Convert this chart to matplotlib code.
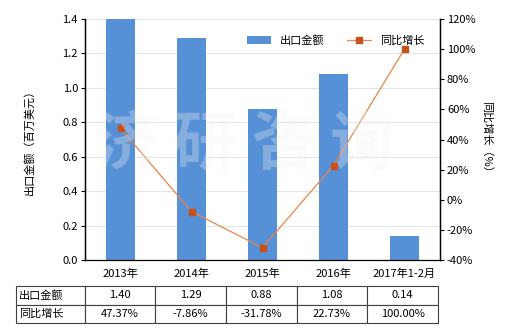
import numpy as np
import matplotlib.pyplot as plt

plt.rcParams['font.family'] = ['Noto Sans CJK SC', 'DejaVu Sans']
plt.rcParams['font.size'] = 8

categories = ['2013年', '2014年', '2015年', '2016年', '2017年1-2月']
export_value = [1.40, 1.29, 0.88, 1.08, 0.14]
growth = [47.37, -7.86, -31.78, 22.73, 100.00]
value_labels = ['1.40', '1.29', '0.88', '1.08', '0.14']
growth_labels = ['47.37%', '-7.86%', '-31.78%', '22.73%', '100.00%']

W, H = 520, 330
fig = plt.figure(figsize=(W / 100, H / 100), dpi=100)
# plot area in pixels: left 85, right 440, top 19, bottom 260
ax = fig.add_axes([85 / W, 1 - 260 / H, (440 - 85) / W, (260 - 19) / H])
ax2 = ax.twinx()

x = np.arange(len(categories))
bar_color = '#5690D6'
line_color = '#C8501A'

ax.bar(x, export_value, width=0.41, color=bar_color, zorder=2, label='出口金额')
ax.set_xlim(-0.5, 4.5)
ax.set_ylim(0, 1.4)
ax.set_yticks(np.arange(0, 1.41, 0.2))
ax.set_yticklabels([f'{v:.1f}' for v in np.arange(0, 1.41, 0.2)])
ax.yaxis.grid(True, color='#DCE9E6', lw=0.8, zorder=0)
ax.set_axisbelow(True)
ax.set_xticks(x)
ax.set_xticklabels(categories)
ax.tick_params(axis='x', length=0, pad=6)
ax.tick_params(axis='y', length=3, pad=2)
ax.set_ylabel('出口金额（百万美元）', labelpad=20)

ax2.plot(x, growth, color='#E8874A', lw=0.9, marker='s', markersize=4.5,
         markerfacecolor=line_color, markeredgecolor=line_color, label='同比增长', zorder=3)
ax2.set_ylim(-40, 120)
ax2.set_yticks(np.arange(-40, 121, 20))
ax2.set_yticklabels([f'{v}%' for v in range(-40, 121, 20)])
ax2.tick_params(axis='y', length=3, pad=2)
ax2.set_ylabel('同比增长（%）', rotation=-90, labelpad=12)

for a in (ax, ax2):
    a.spines['top'].set_visible(False)
    for s in ('left', 'right', 'bottom'):
        a.spines[s].set_linewidth(0.9)
ax2.spines['bottom'].set_visible(False)

# watermark
fig.text(0.47, 0.56, '济 研 咨 询', fontsize=46, color='#F2F2F2', alpha=0.3,
         ha='center', va='center', fontweight='bold', zorder=5)

# legend
h1, l1 = ax.get_legend_handles_labels()
h2, l2 = ax2.get_legend_handles_labels()
ax2.legend(h1 + h2, l1 + l2, loc='upper right', bbox_to_anchor=(0.985, 0.975),
           ncol=2, frameon=False, handlelength=2.2, columnspacing=2.0, fontsize=8)

# data table
tb = ax.table(cellText=[['出口金额'] + value_labels, ['同比增长'] + growth_labels],
              cellLoc='center',
              colWidths=[69 / 355] + [71 / 355] * 5,
              bbox=[(16 - 85) / 355, -(323 - 260) / 241, (438 - 16) / 355, (323 - 286) / 241])
tb.auto_set_font_size(False)
tb.set_fontsize(8)
for (r, c), cell in tb.get_celld().items():
    cell.set_linewidth(0.8)
    cell.set_edgecolor('#404040')
    if c == 0:
        cell._loc = 'left'
        cell.PAD = 0.04
        cell.get_text().set_horizontalalignment('left')

fig.savefig('out.png', dpi=100)
